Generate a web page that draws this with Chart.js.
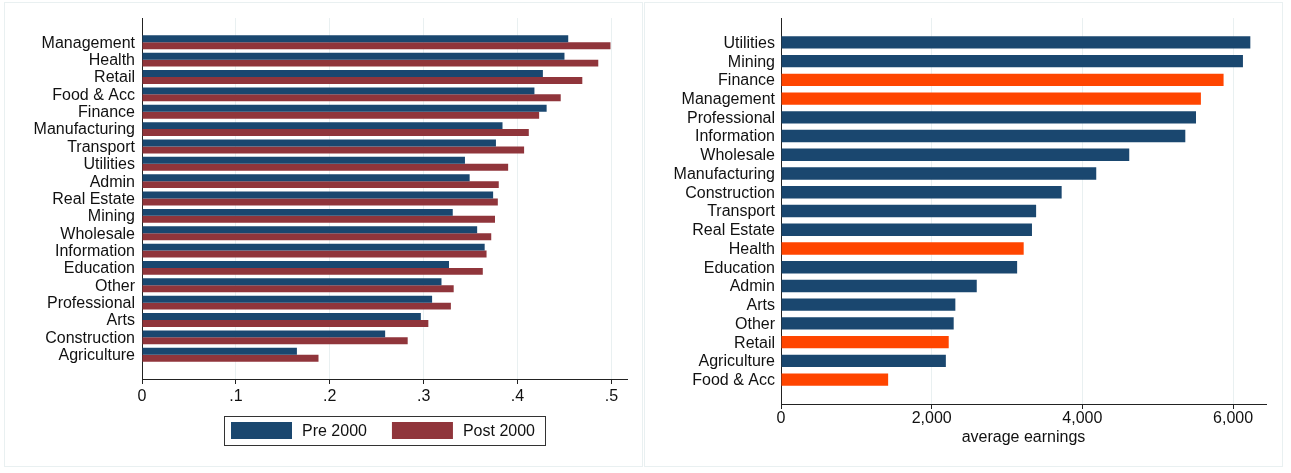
<!DOCTYPE html>
<html>
<head>
<meta charset="utf-8">
<script src="https://cdn.jsdelivr.net/npm/chart.js@4.4.1/dist/chart.umd.min.js"></script>
<style>
  html, body { margin: 0; padding: 0; background: #fff; }
  body { width: 1291px; height: 473px; position: relative; overflow: hidden; }
  .panel { position: absolute; top: 2px; height: 465px; width: 639px; border: 1px solid #e9f0f1; box-sizing: border-box; }
  #leftPanel { left: 4px; }
  #rightPanel { left: 644px; }
  .wrap { position: absolute; top: 0; width: 644px; height: 470px; }
  #leftWrap { left: 0; }
  #rightWrap { left: 644px; }
</style>
</head>
<body>
<div class="panel" id="leftPanel"></div>
<div class="panel" id="rightPanel"></div>
<div class="wrap" id="leftWrap"><canvas id="gapChart" width="644" height="470"></canvas></div>
<div class="wrap" id="rightWrap"><canvas id="earnChart" width="644" height="470"></canvas></div>
<script>
// left panel: share by industry, pre / post 2000
const gapCategories = ['Management', 'Health', 'Retail', 'Food & Acc', 'Finance', 'Manufacturing', 'Transport',
  'Utilities', 'Admin', 'Real Estate', 'Mining', 'Wholesale', 'Information', 'Education', 'Other',
  'Professional', 'Arts', 'Construction', 'Agriculture'];
const pre2000 = [0.454, 0.450, 0.427, 0.418, 0.431, 0.384, 0.377, 0.344, 0.349, 0.374, 0.331, 0.357,
  0.365, 0.327, 0.319, 0.309, 0.297, 0.259, 0.165];
const post2000 = [0.499, 0.486, 0.469, 0.446, 0.423, 0.412, 0.407, 0.390, 0.380, 0.379, 0.376, 0.372,
  0.367, 0.363, 0.332, 0.329, 0.305, 0.283, 0.188];
const gapTicks = [0, 0.1, 0.2, 0.3, 0.4, 0.5];
const gapTickLabels = ['0', '.1', '.2', '.3', '.4', '.5'];

// right panel: average earnings
const earnCategories = ['Utilities', 'Mining', 'Finance', 'Management', 'Professional', 'Information',
  'Wholesale', 'Manufacturing', 'Construction', 'Transport', 'Real Estate', 'Health', 'Education',
  'Admin', 'Arts', 'Other', 'Retail', 'Agriculture', 'Food & Acc'];
const avgEarnings = [6229, 6131, 5874, 5573, 5508, 5366, 4622, 4184, 3725, 3386, 3331, 3221, 3134,
  2598, 2314, 2292, 2226, 2188, 1422];
const highlighted = ['Finance', 'Management', 'Health', 'Retail', 'Food & Acc'];
const earnTicks = [0, 2000, 4000, 6000];
const earnTickLabels = ['0', '2,000', '4,000', '6,000'];

const NAVY = '#1a476f';
const MAROON = '#90353b';
const ORANGE = '#ff4500';
const GRID = '#e9f0f1';
const INK = '#111';
const font = { family: "'Liberation Sans', Arial, Helvetica, sans-serif", size: 16 };

Chart.defaults.font = font;
Chart.defaults.color = INK;

// stata style legend: keys + labels inside a thin frame, under the plot
const boxedLegend = {
  id: 'boxedLegend',
  afterDraw(chart) {
    const ctx = chart.ctx;
    const area = chart.chartArea;
    const keyW = 61, keyH = 17, keyGap = 10, itemGap = 25;
    ctx.save();
    ctx.font = `${font.size}px ${font.family}`;
    const items = chart.data.datasets.map(d => ({ text: d.label, color: d.backgroundColor, w: ctx.measureText(d.label).width }));
    const inner = items.reduce((s, it) => s + keyW + keyGap + it.w, 0) + itemGap * (items.length - 1);
    const boxW = Math.round(inner + 17);
    const left = Math.round((area.left + area.right) / 2 - boxW / 2);
    const top = Math.round(area.bottom + 37);
    ctx.strokeStyle = '#333';
    ctx.lineWidth = 1;
    ctx.strokeRect(left + 0.5, top + 0.5, boxW, 29);
    let x = left + 7;
    ctx.textBaseline = 'middle';
    ctx.textAlign = 'left';
    items.forEach(it => {
      ctx.fillStyle = it.color;
      ctx.fillRect(x, top + 6, keyW, keyH);
      ctx.fillStyle = INK;
      ctx.fillText(it.text, x + keyW + keyGap, top + 6 + keyH / 2 + 1);
      x += keyW + keyGap + it.w + itemGap;
    });
    ctx.restore();
  }
};

const gridColor = ctx => (ctx.tick && ctx.tick.value === 0) ? 'rgba(0,0,0,0)' : GRID;

function catAxis(cats, pad, width, padding) {
  return {
    type: 'linear', reverse: true, offset: false, min: -pad, max: cats.length - 1 + pad,
    afterBuildTicks: s => { s.ticks = cats.map((c, i) => ({ value: i })); },
    afterFit: s => { s.width = width; },
    grid: { display: false, drawTicks: false, offset: false },
    border: { color: '#222', width: 1 },
    ticks: { autoSkip: false, padding: padding, labelOffset: 1, color: INK, callback: v => cats[v] }
  };
}

function valAxis(ticks, labels, max, height, padding) {
  return {
    type: 'linear', min: 0, max: max,
    afterBuildTicks: s => { s.ticks = ticks.map(v => ({ value: v })); },
    afterFit: s => { s.height = height; },
    grid: { color: gridColor, lineWidth: 1, tickColor: '#222', tickLength: 5 },
    border: { color: '#222', width: 1 },
    ticks: { autoSkip: false, maxRotation: 0, padding: padding, color: INK,
      callback: v => labels[ticks.indexOf(v)] }
  };
}

new Chart(document.getElementById('gapChart'), {
  type: 'bar',
  data: {
    datasets: [
      { label: 'Pre 2000', data: pre2000.map((v, i) => ({ x: v, y: i })), backgroundColor: NAVY, borderWidth: 0 },
      { label: 'Post 2000', data: post2000.map((v, i) => ({ x: v, y: i })), backgroundColor: MAROON, borderWidth: 0 }
    ]
  },
  options: {
    indexAxis: 'y',
    responsive: false,
    animation: false,
    categoryPercentage: 0.8,
    barPercentage: 1,
    layout: { padding: { top: 18, right: 17, bottom: 63, left: 0 } },
    scales: {
      x: valAxis(gapTicks, gapTickLabels, 0.5166, 28, 3),
      y: catAxis(gapCategories, 1.4, 142, 7)
    },
    plugins: {
      legend: { display: false },
      tooltip: { enabled: false }
    }
  },
  plugins: [boxedLegend]
});

const earnAxis = valAxis(earnTicks, earnTickLabels, 6437, 43.3, 0);
earnAxis.title = { display: true, text: 'average earnings', color: INK, font: font, padding: 0 };

new Chart(document.getElementById('earnChart'), {
  type: 'bar',
  data: {
    datasets: [{
      label: 'average earnings',
      data: avgEarnings.map((v, i) => ({ x: v, y: i })),
      backgroundColor: earnCategories.map(c => highlighted.includes(c) ? ORANGE : NAVY),
      borderWidth: 0
    }]
  },
  options: {
    indexAxis: 'y',
    responsive: false,
    animation: false,
    categoryPercentage: 0.66,
    barPercentage: 1,
    layout: { padding: { top: 18, right: 22, bottom: 22.7, left: 0 } },
    scales: {
      x: earnAxis,
      y: catAxis(earnCategories, 1.3, 137, 6)
    },
    plugins: {
      legend: { display: false },
      tooltip: { enabled: false }
    }
  }
});
</script>
</body>
</html>
